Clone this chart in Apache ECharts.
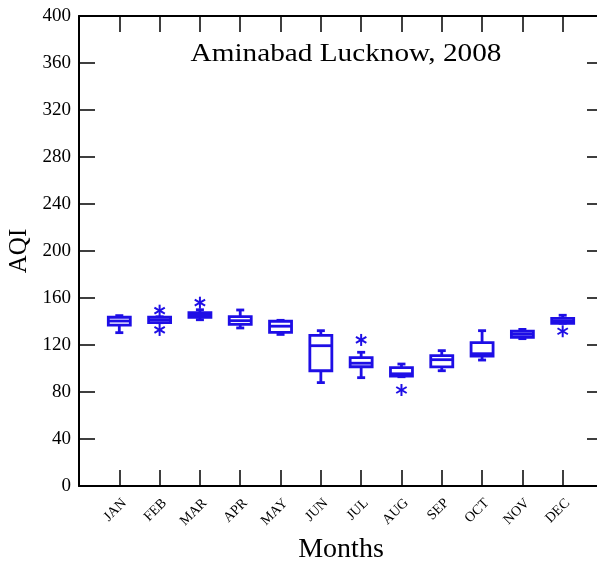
<!DOCTYPE html>
<html>
<head>
<meta charset="utf-8">
<script src="https://cdn.jsdelivr.net/npm/echarts@6/dist/echarts.min.js"></script>
<style>html,body{margin:0;padding:0;background:#fff;}#chart{width:597px;height:565px;}</style>
</head>
<body>
<div id="chart"></div>
<script>
const months = ['JAN','FEB','MAR','APR','MAY','JUN','JUL','AUG','SEP','OCT','NOV','DEC'];
const lowWhisker  = [130.5, 139.0, 141.5, 134.5, 129.0,  88.0,  92.2,  93.0,  98.1, 107.2, 125.4, 138.5];
const q1          = [137.0, 139.0, 143.5, 137.6, 130.8,  98.1, 101.5,  93.6, 101.3, 110.6, 126.6, 138.5];
const median      = [140.4, 141.3, 145.5, 140.7, 136.0, 119.4, 104.5,  95.5, 107.5, 112.6, 129.1, 140.5];
const q3          = [143.6, 143.6, 147.5, 144.1, 140.2, 128.2, 109.2, 100.7, 110.9, 122.0, 131.7, 142.7];
const highWhisker = [145.0, 144.0, 150.0, 149.8, 141.0, 132.2, 113.8, 103.8, 115.2, 132.2, 133.3, 145.3];
const outlierMonth = [2, 2, 3, 7, 8, 12];
const outlierValue = [149.2, 132.8, 156.0, 124.3, 81.7, 131.7];
const yTicks = [0, 40, 80, 120, 160, 200, 240, 280, 320, 360, 400];
const titleText = 'Aminabad Lucknow, 2008';

const BLUE = '#1e0ee6';
const boxData = months.map((m, i) => [i + 1, lowWhisker[i], q1[i], median[i], q3[i], highWhisker[i]]);
const outData = outlierMonth.map((m, i) => [m, outlierValue[i]]);

function renderBox(params, api) {
  const x = api.value(0);
  const pLow = api.coord([x, api.value(1)]);
  const pQ1 = api.coord([x, api.value(2)]);
  const pMed = api.coord([x, api.value(3)]);
  const pQ3 = api.coord([x, api.value(4)]);
  const pHigh = api.coord([x, api.value(5)]);
  const hw = 11, cw = 4;
  const st = {stroke: BLUE, lineWidth: 2.8, fill: null};
  const cx = pQ1[0];
  return {
    type: 'group',
    children: [
      {type: 'line', shape: {x1: cx, y1: pQ3[1], x2: cx, y2: pHigh[1]}, style: st},
      {type: 'line', shape: {x1: cx - cw, y1: pHigh[1], x2: cx + cw, y2: pHigh[1]}, style: st},
      {type: 'line', shape: {x1: cx, y1: pQ1[1], x2: cx, y2: pLow[1]}, style: st},
      {type: 'line', shape: {x1: cx - cw, y1: pLow[1], x2: cx + cw, y2: pLow[1]}, style: st},
      {type: 'rect', shape: {x: cx - hw, y: pQ3[1], width: 2 * hw, height: pQ1[1] - pQ3[1]}, style: {stroke: BLUE, lineWidth: 2.8, fill: '#fff'}},
      {type: 'line', shape: {x1: cx - hw, y1: pMed[1], x2: cx + hw, y2: pMed[1]}, style: st}
    ]
  };
}

function renderStar(params, api) {
  const p = api.coord([api.value(0), api.value(1)]);
  const r = 6;
  const dx = r * Math.cos(Math.PI / 6), dy = r * Math.sin(Math.PI / 6);
  const st = {stroke: BLUE, lineWidth: 2};
  return {
    type: 'group',
    children: [
      {type: 'line', shape: {x1: p[0], y1: p[1] - r, x2: p[0], y2: p[1] + r}, style: st},
      {type: 'line', shape: {x1: p[0] - dx, y1: p[1] - dy, x2: p[0] + dx, y2: p[1] + dy}, style: st},
      {type: 'line', shape: {x1: p[0] - dx, y1: p[1] + dy, x2: p[0] + dx, y2: p[1] - dy}, style: st}
    ]
  };
}

const chart = echarts.init(document.getElementById('chart'), null, {renderer: 'canvas'});
const FONT = 'Liberation Serif';
const axisLineStyle = {color: '#000', width: 2};
const tickStyle = {color: '#000', width: 1.5};
chart.setOption({
  animation: false,
  backgroundColor: '#fff',
  graphic: [{
    type: 'text', x: 346, y: 42, scaleX: 1.17, z: 10,
    style: {text: titleText, fontFamily: FONT, fontSize: 25, fill: '#000', textAlign: 'center', textVerticalAlign: 'top', verticalAlign: 'top'}
  }],
  grid: {left: 79, top: 16, width: 524, height: 470, containLabel: false, outerBoundsMode: 'none'},
  xAxis: [{
    type: 'value', min: 0, max: 13, interval: 1, position: 'bottom',
    axisLine: {onZero: false, lineStyle: axisLineStyle},
    axisTick: {inside: true, length: 16, lineStyle: tickStyle},
    splitLine: {show: false},
    axisLabel: {
      rotate: 45, margin: 10, fontFamily: FONT, fontSize: 14, color: '#000', verticalAlign: 'top',
      formatter: v => months[v - 1] || ''
    },
    name: 'Months', nameLocation: 'middle', nameGap: 50,
    nameTextStyle: {fontFamily: FONT, fontSize: 28, color: '#000'}
  }, {
    type: 'value', min: 0, max: 13, interval: 1, position: 'top',
    axisLine: {onZero: false, lineStyle: axisLineStyle},
    axisTick: {inside: true, length: 16, lineStyle: tickStyle},
    splitLine: {show: false}, axisLabel: {show: false}
  }],
  yAxis: [{
    type: 'value', min: 0, max: 400, interval: 40, position: 'left',
    axisLine: {show: true, onZero: false, lineStyle: axisLineStyle},
    axisTick: {show: true, inside: true, length: 16, lineStyle: tickStyle},
    splitLine: {show: false},
    axisLabel: {margin: 8, fontFamily: FONT, fontSize: 19, color: '#000',
      formatter: v => yTicks.indexOf(v) >= 0 ? String(v) : ''},
    name: 'AQI', nameLocation: 'middle', nameGap: 45,
    nameTextStyle: {fontFamily: FONT, fontSize: 25, color: '#000'}
  }, {
    type: 'value', min: 0, max: 400, interval: 40, position: 'right',
    axisLine: {show: true, onZero: false, lineStyle: axisLineStyle},
    axisTick: {show: true, inside: true, length: 16, lineStyle: tickStyle},
    splitLine: {show: false}, axisLabel: {show: false}
  }],
  series: [{
    type: 'custom', renderItem: renderBox, data: boxData,
    encode: {x: 0, y: [1, 2, 3, 4, 5]}, clip: false
  }, {
    type: 'custom', renderItem: renderStar, data: outData,
    encode: {x: 0, y: 1}
  }]
});
</script>
</body>
</html>
